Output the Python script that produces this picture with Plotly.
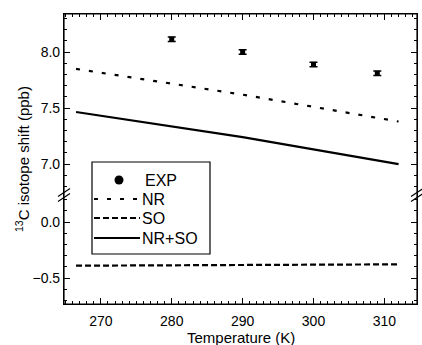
import plotly.graph_objects as go

# ---- data ----
exp_T = [280, 290, 300, 309]
exp_shift = [8.115, 8.00, 7.89, 7.81]
exp_err = [0.02, 0.02, 0.02, 0.02]

calc_T = [266.5, 290, 312]
nr_shift = [7.85, 7.62, 7.38]
nrso_shift = [7.465, 7.24, 7.0]
so_shift = [-0.39, -0.385, -0.378]

x_ticks = [270, 280, 290, 300, 310]
top_ticks = [7.0, 7.5, 8.0]
bot_ticks = [-0.5, 0.0]
legend_names = ["EXP", "NR", "SO", "NR+SO"]

FONT = "Liberation Sans, Arial, sans-serif"
W, H = 422, 345
ML, MR, MT, MB = 64, 5, 14, 41
PW, PH = W - ML - MR, H - MT - MB
split = 109 / 290.0


def px(x):
    return (x - ML) / PW


def py(y):
    return (H - MB - y) / PH


NR_DASH = "4px,9px"
SO_DASH = "6px,3px"

fig = go.Figure()
fig.add_trace(go.Scatter(x=calc_T, y=nr_shift, mode="lines", name="NR",
                         line=dict(color="black", width=2.2, dash=NR_DASH),
                         xaxis="x2", yaxis="y2"))
fig.add_trace(go.Scatter(x=calc_T, y=so_shift, mode="lines", name="SO",
                         line=dict(color="black", width=2.2, dash=SO_DASH),
                         xaxis="x", yaxis="y"))
fig.add_trace(go.Scatter(x=calc_T, y=nrso_shift, mode="lines", name="NR+SO",
                         line=dict(color="black", width=2.2),
                         xaxis="x2", yaxis="y2"))
fig.add_trace(go.Scatter(x=exp_T, y=exp_shift, mode="markers", name="EXP",
                         marker=dict(symbol="square", size=5, color="black"),
                         error_y=dict(type="data", array=exp_err, color="black",
                                      thickness=1.5, width=4),
                         xaxis="x2", yaxis="y2"))

tickfont = dict(family=FONT, size=14, color="black")
xr = [264.8, 314.6]
common_x = dict(range=xr, tickvals=x_ticks, ticks="inside", ticklen=6, tickwidth=1,
                tickcolor="black", showline=True, linecolor="black", linewidth=1.2,
                showgrid=False, zeroline=False, tickfont=tickfont,
                minor=dict(dtick=1, ticks="inside", ticklen=3, tickcolor="black"))
common_y = dict(ticks="inside", ticklen=6, tickwidth=1, tickcolor="black",
                showline=True, linecolor="black", linewidth=1.2, mirror="ticks",
                showgrid=False, zeroline=False, tickformat=".1f", tickfont=tickfont,
                minor=dict(dtick=0.1, ticks="inside", ticklen=3, tickcolor="black"))

fig.update_layout(
    width=W, height=H,
    margin=dict(l=ML, r=MR, t=MT, b=MB, autoexpand=False),
    paper_bgcolor="white", plot_bgcolor="white",
    showlegend=False,
    xaxis=dict(anchor="y", domain=[0, 1], ticklabelstandoff=4, **common_x),
    xaxis2=dict(anchor="y2", domain=[0, 1], side="top", showticklabels=False, **common_x),
    yaxis=dict(domain=[0, split], range=[-0.732, 0.241], tickvals=bot_ticks, **common_y),
    yaxis2=dict(domain=[split, 1], range=[6.724, 8.34], tickvals=top_ticks, **common_y),
)

annotations = [
    dict(text="<sup>13</sup>C isotope shift (ppb)", textangle=-90,
         xref="paper", yref="paper", x=px(22), y=0.5,
         xanchor="center", yanchor="middle", showarrow=False,
         font=dict(family=FONT, size=15, color="black")),
    dict(text="Temperature (K)", xref="paper", yref="paper", x=0.5, y=py(337),
         xanchor="center", yanchor="middle", showarrow=False,
         font=dict(family=FONT, size=15, color="black")),
]

shapes = []
# frame
shapes.append(dict(type="rect", xref="paper", yref="paper", x0=0, x1=1, y0=0, y1=1,
                   line=dict(color="black", width=1.2), layer="above"))
# axis break marks (left and right)
for xp in [0, 1]:
    xpix = ML + xp * PW
    for dy in (-2.5, 2.5):
        ypix = MT + (1 - split) * PH + dy
        shapes.append(dict(type="line", xref="paper", yref="paper",
                           x0=px(xpix - 6), x1=px(xpix + 6),
                           y0=py(ypix + 4), y1=py(ypix - 4),
                           line=dict(color="black", width=1.2)))

# manual legend box
shapes.append(dict(type="rect", xref="paper", yref="paper",
                   x0=px(92), x1=px(210), y0=py(254), y1=py(162),
                   fillcolor="white", line=dict(color="black", width=1.2), layer="above"))
rows = [180, 199, 218, 238]
shapes.append(dict(type="circle", xref="paper", yref="paper",
                   x0=px(114.5), x1=px(123.5), y0=py(184.5), y1=py(175.5),
                   fillcolor="black", line=dict(color="black", width=0)))
for yrow, dash in zip(rows[1:], [NR_DASH, SO_DASH, "solid"]):
    shapes.append(dict(type="line", xref="paper", yref="paper",
                       x0=px(94), x1=px(140), y0=py(yrow), y1=py(yrow),
                       line=dict(color="black", width=2.2, dash=dash)))
for name, yrow in zip(legend_names, rows):
    annotations.append(dict(text=name, xref="paper", yref="paper",
                            x=px(143 if name == "EXP" else 140), y=py(yrow),
                            xanchor="left", yanchor="middle", showarrow=False,
                            font=dict(family=FONT, size=16, color="black")))

fig.update_layout(shapes=shapes, annotations=annotations)

fig.write_html("out.html", config={"displayModeBar": False},
               post_script="document.body.style.margin='0px';document.body.style.overflow='hidden';")
